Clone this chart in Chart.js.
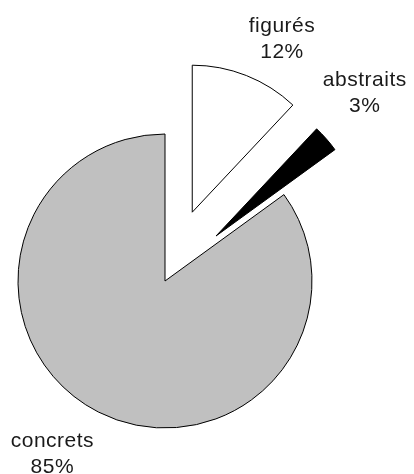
<!DOCTYPE html>
<html>
<head>
<meta charset="utf-8">
<script src="https://cdn.jsdelivr.net/npm/chart.js@4.4.1/dist/chart.umd.min.js"></script>
<style>
  html, body { margin: 0; padding: 0; background: #fff; }
  #wrap { width: 414px; height: 474px; }
</style>
</head>
<body>
<div id="wrap"><canvas id="pieChart" width="414" height="474"></canvas></div>
<script>
// categories and shares (%)
const categories = ['figurés', 'abstraits', 'concrets'];
const shares = [12, 3, 85];
const percentLabels = ['12%', '3%', '85%'];

// styles
const fills = ['#ffffff', '#000000', '#c0c0c0'];
const explode = [74, 68, 0];
const labelGap = [48, 54, 57];
const labelNudge = [[18, 3], [-2, -15], [-20, -14]];

// pull slices out along their mid angle (plain shift, no radius growth)
const explodePlugin = {
    id: 'explodeSlices',
    afterUpdate(chart) {
        const meta = chart.getDatasetMeta(0);
        meta.data.forEach((arc, i) => {
            const mid = (arc.startAngle + arc.endAngle) / 2;
            arc.x += Math.cos(mid) * explode[i];
            arc.y += Math.sin(mid) * explode[i];
        });
    }
};

const labelPlugin = {
    id: 'outerLabels',
    afterDatasetsDraw(chart) {
        const ctx = chart.ctx;
        const meta = chart.getDatasetMeta(0);
        ctx.save();
        ctx.font = '21px "Liberation Sans", Arial, sans-serif';
        ctx.letterSpacing = '0.5px';
        ctx.fillStyle = '#1a1a1a';
        ctx.textAlign = 'center';
        ctx.textBaseline = 'alphabetic';
        meta.data.forEach((arc, i) => {
            const mid = (arc.startAngle + arc.endAngle) / 2;
            const r = arc.outerRadius + labelGap[i];
            const x = arc.x + Math.cos(mid) * r + labelNudge[i][0];
            const y = arc.y + Math.sin(mid) * r + labelNudge[i][1];
            ctx.fillText(categories[i], x, y - 2);
            ctx.fillText(percentLabels[i], x, y + 24);
        });
        ctx.restore();
    }
};

const pieCtx = document.getElementById('pieChart').getContext('2d');
new Chart(pieCtx, {
    type: 'pie',
    data: {
        labels: categories,
        datasets: [{
            data: shares,
            backgroundColor: fills,
            borderColor: '#000',
            borderWidth: 1
        }]
    },
    options: {
        responsive: false,
        animation: false,
        events: [],
        radius: 147,
        layout: { padding: { left: 0, right: 84, top: 88, bottom: 0 } },
        plugins: {
            legend: { display: false },
            tooltip: { enabled: false }
        }
    },
    plugins: [explodePlugin, labelPlugin]
});
</script>
</body>
</html>
